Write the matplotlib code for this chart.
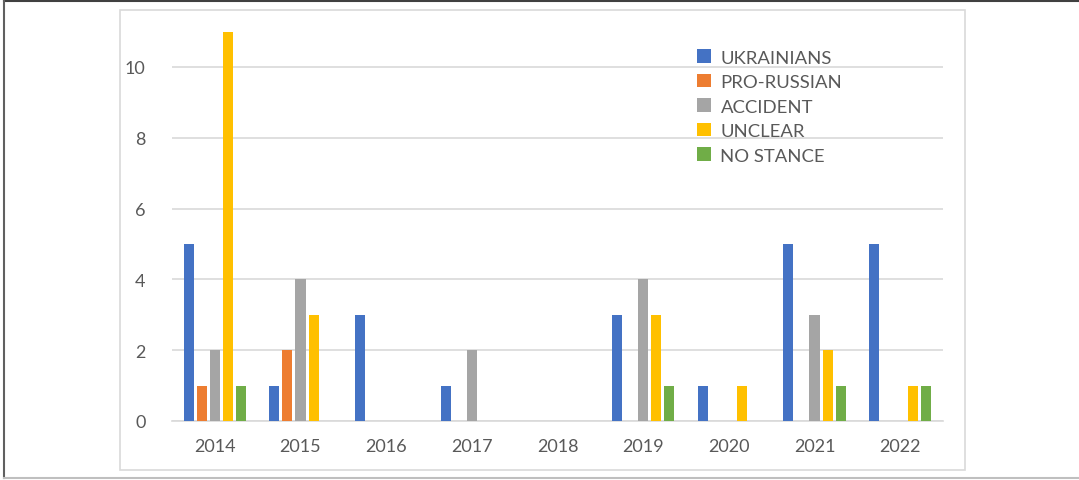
import matplotlib.pyplot as plt
import numpy as np
from matplotlib.lines import Line2D
from matplotlib.patches import Rectangle, Patch

years = ['2014', '2015', '2016', '2017', '2018', '2019', '2020', '2021', '2022']
ukrainians = [5, 1, 3, 1, 0, 3, 1, 5, 5]
pro_russian = [1, 2, 0, 0, 0, 0, 0, 0, 0]
accident = [2, 4, 0, 2, 0, 4, 0, 3, 0]
unclear = [11, 3, 0, 0, 0, 3, 1, 2, 1]
no_stance = [1, 0, 0, 0, 0, 1, 0, 1, 1]

series = [
    ('UKRAINIANS', ukrainians, '#4472C4'),
    ('PRO-RUSSIAN', pro_russian, '#ED7D31'),
    ('ACCIDENT', accident, '#A5A5A5'),
    ('UNCLEAR', unclear, '#FFC000'),
    ('NO STANCE', no_stance, '#70AD47'),
]

plt.rcParams['font.family'] = ['Lato', 'DejaVu Sans']
text_col = '#595959'
grid_col = '#d9d9d9'

fig = plt.figure(figsize=(10.79, 4.81), dpi=100)

# chart frame (inner box) and outer page lines
fig.patches.append(Rectangle((120 / 1079, 1 - 471 / 481), 845 / 1079, 460 / 481,
                             transform=fig.transFigure, fill=False,
                             edgecolor=grid_col, linewidth=1.2))
fig.lines.append(Line2D([4 / 1079, 1], [1 - 2 / 481, 1 - 2 / 481],
                        transform=fig.transFigure, color='#404040', linewidth=1.5))
fig.lines.append(Line2D([4 / 1079, 4 / 1079], [1 - 2 / 481, 1 - 479 / 481],
                        transform=fig.transFigure, color='#606060', linewidth=1.5))
fig.lines.append(Line2D([4 / 1079, 1], [1 - 479 / 481, 1 - 479 / 481],
                        transform=fig.transFigure, color='#bfbfbf', linewidth=1.5))

ax = fig.add_axes([172 / 1079, 1 - 422 / 481, 771 / 1079, 389.5 / 481])

x = np.arange(len(years))
step = 0.152
width = 0.117
for i, (name, vals, col) in enumerate(series):
    ax.bar(x + (i - 2) * step, vals, width, color=col, label=name, zorder=3)

ax.set_xlim(-0.5, len(years) - 0.5)
ax.set_ylim(0, 11)
ax.set_yticks([0, 2, 4, 6, 8, 10])
ax.set_xticks(x)
ax.set_xticklabels(years)
ax.yaxis.grid(True, color=grid_col, linewidth=1.2, zorder=0)
ax.set_axisbelow(True)
for s in ['top', 'right', 'left']:
    ax.spines[s].set_visible(False)
ax.spines['bottom'].set_color(grid_col)
ax.spines['bottom'].set_linewidth(1.2)
ax.tick_params(axis='both', length=0, labelsize=13, colors=text_col)
ax.tick_params(axis='y', pad=19)
ax.tick_params(axis='x', pad=12)

handles = [Patch(facecolor=c, edgecolor='none') for _, _, c in series]
labels = [n for n, _, _ in series]
leg = fig.legend(handles, labels, loc='upper left',
                 bbox_to_anchor=(690 / 1079, 1 - 43 / 481),
                 frameon=False, fontsize=13.3, handlelength=0.75, handleheight=0.75,
                 handletextpad=0.5, labelspacing=0.45, borderaxespad=0)
for t in leg.get_texts():
    t.set_color(text_col)

fig.savefig('out.png', dpi=100)
